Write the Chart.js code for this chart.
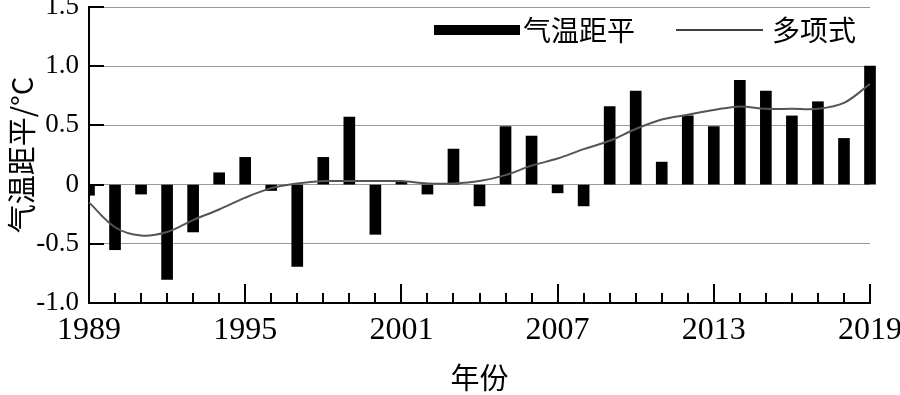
<!DOCTYPE html>
<html>
<head>
<meta charset="utf-8">
<script src="https://cdn.jsdelivr.net/npm/chart.js@4/dist/chart.umd.min.js"></script>
<style>
  html, body { margin: 0; padding: 0; background: #fff; }
</style>
</head>
<body>
<canvas id="tempChart" width="900" height="395"></canvas>
<script>
const years = [1989, 1990, 1991, 1992, 1993, 1994, 1995, 1996, 1997, 1998,
               1999, 2000, 2001, 2002, 2003, 2004, 2005, 2006, 2007, 2008,
               2009, 2010, 2011, 2012, 2013, 2014, 2015, 2016, 2017, 2018, 2019];
const anomaly = [-0.09, -0.55, -0.08, -0.80, -0.40, 0.10, 0.23, -0.05, -0.69, 0.23,
                 0.57, -0.42, 0.02, -0.08, 0.30, -0.18, 0.49, 0.41, -0.07, -0.18,
                 0.66, 0.79, 0.19, 0.58, 0.49, 0.88, 0.79, 0.58, 0.70, 0.39, 1.00];
const trend = [-0.15, -0.36, -0.43, -0.40, -0.30, -0.21, -0.11, -0.03, 0.01, 0.03,
               0.03, 0.03, 0.03, 0.01, 0.01, 0.03, 0.08, 0.16, 0.22, 0.30,
               0.37, 0.47, 0.55, 0.59, 0.63, 0.66, 0.64, 0.64, 0.64, 0.69, 0.85];
const tickYears = [1989, 1995, 2001, 2007, 2013, 2019];

const serif = "'Liberation Serif', 'Noto Sans CJK SC', serif";
const cjk = "'Noto Sans CJK SC', 'Liberation Serif', serif";

// inward tick marks, like the original figure
const innerTicks = {
    id: 'innerTicks',
    afterDraw(chart) {
        const c = chart.ctx;
        const xs = chart.scales.x, ys = chart.scales.y;
        const area = chart.chartArea;
        c.save();
        c.strokeStyle = '#000';
        c.lineWidth = 2;
        years.forEach((yr, i) => {
            const x = Math.round(xs.getPixelForValue(i));
            const len = tickYears.includes(yr) ? 19 : 10;
            c.beginPath();
            c.moveTo(x, area.bottom);
            c.lineTo(x, area.bottom - len);
            c.stroke();
        });
        ys.ticks.forEach(t => {
            const y = Math.round(ys.getPixelForValue(t.value));
            c.beginPath();
            c.moveTo(area.left, y);
            c.lineTo(area.left + 15, y);
            c.stroke();
        });
        c.restore();
    }
};

// legend drawn inside the plot, top right
const innerLegend = {
    id: 'innerLegend',
    afterDraw(chart) {
        const c = chart.ctx;
        const ds = chart.data.datasets;
        c.save();
        c.font = '28px ' + cjk;
        c.fillStyle = '#000';
        c.textBaseline = 'middle';
        c.fillRect(434, 25, 86, 10);
        c.fillText(ds[0].label, 523, 30);
        c.strokeStyle = '#000';
        c.lineWidth = 1.5;
        c.beginPath();
        c.moveTo(676, 30);
        c.lineTo(763, 30);
        c.stroke();
        c.fillText(ds[1].label, 772, 30);
        c.restore();
    }
};

new Chart(document.getElementById('tempChart'), {
    type: 'bar',
    data: {
        labels: years,
        datasets: [{
            label: '气温距平',
            data: anomaly,
            backgroundColor: '#000',
            barThickness: 11,
            clip: {left: 0, top: 5, right: 8, bottom: 0},
            order: 1
        }, {
            type: 'line',
            label: '多项式',
            data: trend,
            borderColor: '#555',
            borderWidth: 2,
            pointRadius: 0,
            tension: 0.35,
            order: 0
        }]
    },
    options: {
        responsive: false,
        animation: false,
        devicePixelRatio: 1,
        layout: { padding: { top: 7, right: 30, left: 0, bottom: 0 } },
        plugins: { legend: { display: false }, tooltip: { enabled: false } },
        scales: {
            x: {
                type: 'category',
                offset: false,
                grid: { display: false, drawTicks: false },
                border: { color: '#000', width: 2 },
                ticks: {
                    autoSkip: false,
                    maxRotation: 0,
                    padding: 8,
                    color: '#000',
                    font: { family: serif, size: 32 },
                    callback: (v, i) => tickYears.includes(years[i]) ? String(years[i]) : ''
                },
                title: {
                    display: true,
                    text: '年份',
                    color: '#000',
                    font: { family: cjk, size: 29 },
                    padding: { top: 0, bottom: 0 }
                },
                afterFit(s) { s.height = 92; s.paddingLeft = 0; s.paddingRight = 0; }
            },
            y: {
                min: -1,
                max: 1.5,
                grid: { color: '#999', lineWidth: 1, drawTicks: false },
                border: { color: '#000', width: 2 },
                ticks: {
                    stepSize: 0.5,
                    padding: 10,
                    color: '#000',
                    font: { family: serif, size: 27 },
                    callback: v => v === 0 ? '0' : v.toFixed(1)
                },
                title: {
                    display: true,
                    text: '气温距平/°C',
                    color: '#000',
                    font: { family: cjk, size: 29 },
                    padding: { top: 5, bottom: 0 }
                },
                afterFit(s) { s.width = 89; s.paddingTop = 0; s.paddingBottom = 0; }
            }
        }
    },
    plugins: [innerTicks, innerLegend]
});
</script>
</body>
</html>
